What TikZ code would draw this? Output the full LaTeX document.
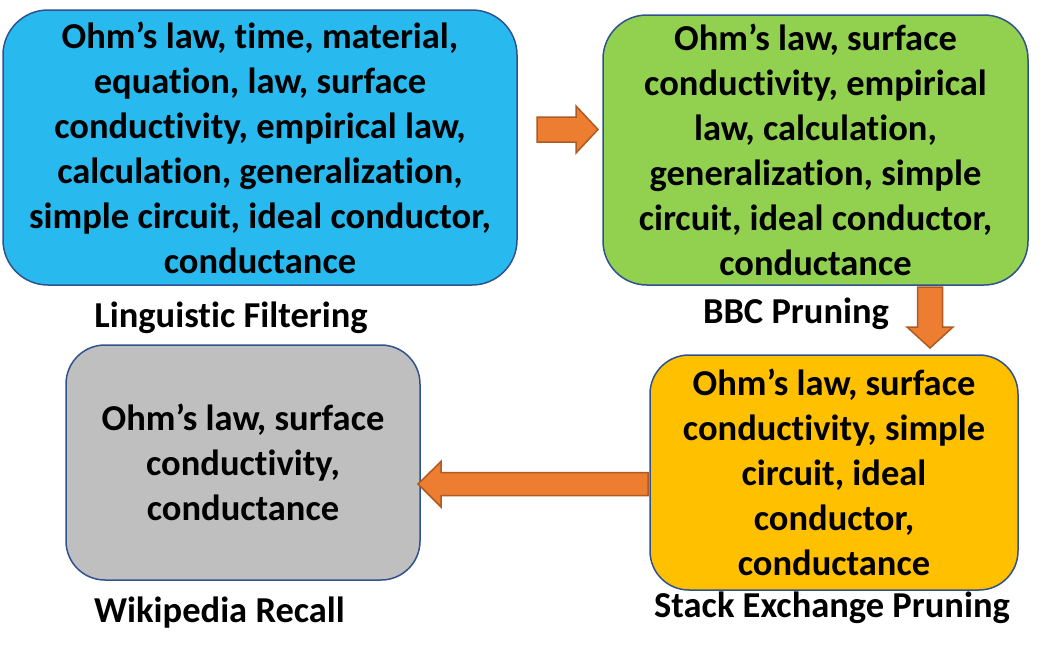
\documentclass[tikz,border=0pt]{standalone}
\usepackage{fontspec}
\setmainfont{Carlito}[Ligatures=NoCommon]
\usetikzlibrary{calc}
\definecolor{bxblue}{RGB}{40,185,238}
\definecolor{bxgreen}{RGB}{146,208,80}
\definecolor{bxyellow}{RGB}{255,192,0}
\definecolor{bxgray}{RGB}{191,191,191}
\definecolor{bxedge}{RGB}{47,82,143}
\definecolor{arfill}{RGB}{237,125,49}
\definecolor{aredge}{RGB}{174,90,33}
\tikzset{
  box/.style={draw=bxedge, line width=1.5pt, align=center, inner sep=0pt,
    font=\fontsize{36.5}{45}\selectfont\bfseries},
  lbl/.style={anchor=base, inner sep=0pt, font=\fontsize{36.5}{45}\selectfont\bfseries},
  blockarrow/.style={fill=arfill, draw=aredge, line width=1.5pt, line join=miter}
}
\begin{document}
\begin{tikzpicture}[x=1pt, y=-1pt]
\useasboundingbox (0,0) rectangle (1058,657);
% boxes
\node[box, fill=bxblue, minimum width=514pt, minimum height=275pt, rounded corners=45pt]
  (lf) at (260,147.5) {Ohm’s law, time, material,\\equation, law, surface\\conductivity, empirical law,\\calculation, generalization,\\simple circuit, ideal conductor,\\conductance};
\node[box, fill=bxgreen, minimum width=425pt, minimum height=270pt, rounded corners=44pt]
  (bbc) at (815.5,150) {Ohm’s law, surface\\conductivity, empirical\\law, calculation,\\generalization, simple\\circuit, ideal conductor,\\conductance};
\node[box, fill=bxyellow, minimum width=368pt, minimum height=235pt, rounded corners=39pt]
  (se) at (834,472.5) {Ohm’s law, surface\\conductivity, simple\\circuit, ideal\\conductor,\\conductance};
\node[box, fill=bxgray, minimum width=354pt, minimum height=235pt, rounded corners=39pt]
  (wr) at (243,462.5) {Ohm’s law, surface\\conductivity,\\conductance};
% labels
\node[lbl] (lfl) at (231,327) {Linguistic Filtering};
\node[lbl] (bbcl) at (796,323) {BBC Pruning};
\node[lbl] (wrl) at (219.5,622) {Wikipedia Recall};
\node[lbl] (sel) at (832,617) {Stack Exchange Pruning};
% block arrows
\draw[blockarrow] (537,117) -- (576,117) -- (576,106) -- (598,129.5) -- (576,153) -- (576,142) -- (537,142) -- cycle;
\draw[blockarrow] (917.5,287) -- (942.5,287) -- (942.5,327) -- (953,327) -- (930,348) -- (907,327) -- (917.5,327) -- cycle;
\draw[blockarrow] (648,472.5) -- (441,472.5) -- (441,461.5) -- (418,484) -- (441,507) -- (441,495.5) -- (648,495.5) -- cycle;
\end{tikzpicture}
\end{document}
